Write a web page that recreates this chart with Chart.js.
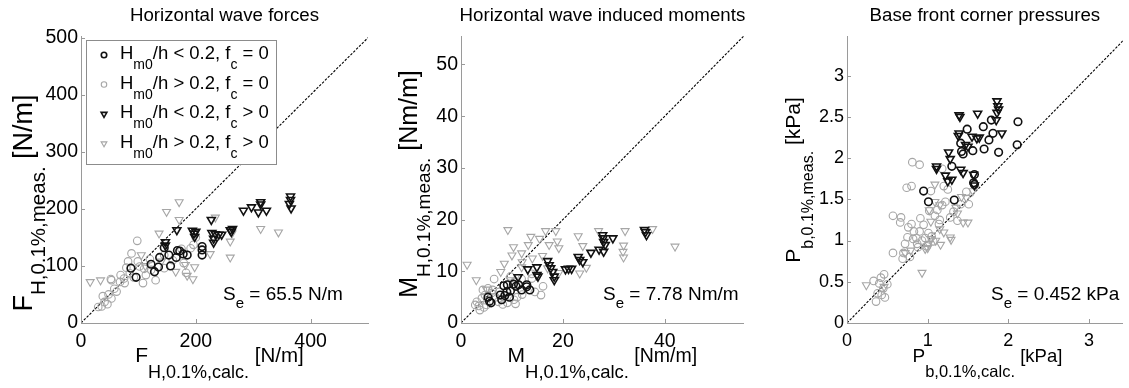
<!DOCTYPE html>
<html>
<head>
<meta charset="utf-8">
<script src="https://cdn.jsdelivr.net/npm/chart.js@4.4.1/dist/chart.umd.min.js"></script>
<style>
  html, body { margin: 0; padding: 0; background: #fff; }
  #wrap { position: relative; width: 1129px; height: 388px; overflow: hidden; }
  canvas { position: absolute; top: 0; }
</style>
</head>
<body>
<div id="wrap">
  <canvas id="cForces" width="380" height="388" style="left:0px"></canvas>
  <canvas id="cMoments" width="370" height="388" style="left:380px"></canvas>
  <canvas id="cPressures" width="379" height="388" style="left:750px"></canvas>
</div>
<script>

// Horizontal wave forces [N/m]
const forcesLowNoCrest = [[87,96],[96,80],[122,103],[128,90],[135,98],[137,115],[145,132],[153,119],[156,100],
  [166,115],[168,127],[172,126],[178,121],[185,119],[211,134],[211,128],[211,119]];
const forcesHighNoCrest = [[98,144],[79,97],[69,84],[53,75],[82,108],[85,87],[76,70],[68,72],[62,55],[53,43],
  [41,37],[36,29],[38,47],[46,33],[99,108],[102,99],[113,84],[122,93],[130,75],[108,70],[145,96],[179,105],
  [183,88],[191,131],[196,137],[145,119],[88,122],[75,78],[92,80],[110,95],[58,60],[30,28],[48,50],[120,112],
  [160,110],[52,77],[200,150],[175,130]];
const forcesLowCrest = [[147,142],[147,136],[167,163],[194,162],[197,157],[198,151],[200,160],[227,181],
  [228,158],[234,156],[231,148],[231,141],[240,155],[245,155],[260,163],[262,160],[264,165],[283,197],
  [297,203],[309,194],[313,212],[313,208],[323,197],[365,222],[365,216],[366,201],[363,209]];
const forcesHighCrest = [[16,72],[34,75],[105,119],[136,157],[149,195],[171,212],[171,181],[182,102],[195,77],
  [198,98],[225,121],[234,185],[260,143],[260,115],[263,157],[313,165],[344,159],[165,90],[185,83],[112,100],
  [140,108]];
const forcesDiagonal = [0, 500];
const forcesXTicks = [0, 200, 400];
const forcesYTicks = [0, 100, 200, 300, 400, 500];

// Horizontal wave induced moments [Nm/m]
const momentsLowNoCrest = [[5.6,4.2],[5.9,3.9],[8.4,7.2],[9.1,7.4],[7.7,5.4],[8.6,5.3],[9.7,6.2],[10.3,7.5],
  [10.8,7.1],[11.3,7.4],[11.9,6.4],[9.5,5.0],[8.0,4.5],[12.9,7.0],[13.5,6.4],[12.9,7.4],[9.0,6.0],[5.3,5.0]];
const momentsHighNoCrest = [[6.5,8.5],[3.7,2.5],[3.1,4.1],[4.1,4.8],[4.7,5.4],[5.3,6.7],[6.2,6.4],[4.3,6.4],
  [7.3,4.1],[9.1,3.9],[10.4,4.5],[10.7,3.7],[11.9,8.5],[13.9,8.6],[15.7,5.4],[16.1,7.1],[13.9,9.5],[9.7,9.0],
  [3.5,3.3],[5.0,3.5],[6.8,5.0],[7.5,6.0],[8.2,3.6],[12.0,5.5],[11.0,5.0],[2.8,3.5],[14.5,6.0],[10.5,8.0],
  [6.0,5.8],[4.5,3.0]];
const momentsLowCrest = [[11.2,8.9],[13.1,10.4],[14.9,10.8],[14.9,9.3],[15.1,9.0],[17.0,12.0],[17.3,11.2],
  [17.6,10.6],[18.0,9.9],[18.3,9.0],[18.3,8.3],[20.5,10.4],[21.1,10.5],[21.7,10.5],[23.0,12.8],[23.3,12.2],
  [23.9,11.8],[25.5,13.6],[27.1,14.2],[27.8,17.0],[27.9,16.4],[28.0,15.7],[28.3,15.1],[28.0,13.8],[29.8,16.4],
  [36.0,18.0],[36.2,17.6],[36.4,17.0]];
const momentsHighCrest = [[1.2,11.3],[3.0,8.3],[9.2,18.0],[10.3,14.7],[10.0,13.1],[11.9,13.5],[13.7,16.7],
  [13.2,15.1],[15.4,16.3],[16.6,17.8],[18.6,17.8],[17.3,15.1],[18.9,15.8],[19.2,14.5],[7.8,9.9],[9.7,8.3],
  [11.9,10.8],[19.2,9.7],[12.0,11.8],[17.0,10.6],[23.0,16.8],[23.9,14.9],[23.3,9.6],[24.6,10.7],[27.0,17.8],
  [32.2,17.8],[31.9,15.0],[31.8,13.8],[31.9,12.7],[37.6,18.2],[42.0,14.8],[14.0,12.5],[16.0,13.0],[5.0,6.5],
  [8.5,11.5]];
const momentsDiagonal = [0, 55.5];
const momentsXTicks = [0, 20, 40];
const momentsYTicks = [0, 10, 20, 30, 40, 50];

// Base front corner pressures [kPa]
const pressLowNoCrest = [[0.95,1.60],[1.01,1.47],[1.33,1.49],[1.30,1.90],[1.41,2.18],[1.42,2.08],[1.44,2.05],
  [1.49,2.35],[1.56,2.09],[1.58,1.80],[1.57,1.70],[1.58,1.68],[1.69,2.38],[1.70,2.11],[1.76,2.22],[1.81,2.30],
  [1.79,2.46],[1.88,2.07],[2.12,2.44],[2.11,2.16]];
const pressHighNoCrest = [[0.81,1.95],[0.90,1.92],[0.74,1.64],[0.80,1.66],[0.57,1.30],[0.67,1.28],[0.66,1.22],
  [0.57,0.85],[0.36,0.26],[0.38,0.36],[0.42,0.55],[0.46,0.59],[0.50,0.47],[0.47,0.31],[0.43,0.34],[0.33,0.51],
  [0.69,0.78],[0.72,0.96],[0.75,1.04],[0.76,1.16],[0.80,1.20],[0.83,1.11],[0.86,1.03],[0.90,1.11],[0.91,1.27],
  [0.95,1.19],[0.87,0.96],[0.97,1.03],[1.01,1.09],[1.02,1.36],[1.07,0.99],[1.09,1.30],[1.12,1.37],[1.14,1.20],
  [1.18,1.43],[1.22,1.47],[1.20,1.66],[1.28,1.28],[1.37,1.24],[1.41,1.44],[1.51,1.44],[1.48,1.59],[1.25,1.62],
  [1.18,1.87],[1.04,1.60],[0.78,0.80],[0.70,0.85],[0.93,1.00],[0.99,0.93],[1.05,1.05],[1.15,1.25],[1.32,1.35],
  [0.45,0.42],[0.40,0.48],[0.82,1.02],[0.88,0.92]];
const pressLowCrest = [[1.39,2.52],[1.40,2.50],[1.62,2.54],[1.39,2.30],[1.38,2.27],[1.55,2.26],[1.47,2.16],
  [1.50,2.14],[1.61,2.24],[1.64,2.25],[1.86,2.69],[1.87,2.63],[1.88,2.59],[1.86,2.55],[1.85,2.46],[1.92,2.30],
  [1.26,2.07],[1.28,1.99],[1.11,1.90],[1.11,1.87],[1.22,1.79],[1.25,1.72],[1.30,1.74],[1.41,1.86],[1.44,1.82],
  [1.57,1.80],[1.58,1.67]];
const pressHighCrest = [[0.24,0.46],[0.93,0.61],[1.09,1.68],[1.50,1.22],[1.42,1.53],[1.15,1.43],[1.02,1.37],
  [1.04,1.23],[1.15,1.14],[1.29,1.01],[1.04,1.02],[1.01,0.96],[1.10,1.00],[1.37,1.33],[1.44,1.22],[1.28,1.04],
  [1.16,0.95],[1.00,0.91],[0.79,0.88],[0.72,0.85],[1.09,1.47],[1.48,1.52],[0.97,0.90],[1.20,1.10],[1.35,1.40],
  [0.46,0.44],[1.56,1.60]];
const pressDiagonal = [0, 3.45];
const pressXTicks = [0, 1, 2, 3];
const pressYTicks = [0, 0.5, 1, 1.5, 2, 2.5, 3];

// ---- style ----
const FONT = "'Liberation Sans', Arial, Helvetica, sans-serif";
const DARK = '#111111';
const GREY = '#a6a6a6';
const AXIS = '#9a9a9a';

const seriesStyles = [
  { key: 'lowNoCrest',  color: DARK, pointStyle: 'circle',   rotation: 0,   radius: 3.8, width: 1.6 },
  { key: 'lowCrest',    color: DARK, pointStyle: 'triangle', rotation: 180, radius: 4.6, width: 1.6 },
  { key: 'highNoCrest', color: GREY, pointStyle: 'circle',   rotation: 0,   radius: 3.8, width: 1.1 },
  { key: 'highCrest',   color: GREY, pointStyle: 'triangle', rotation: 180, radius: 4.6, width: 1.1 }
];

// legend entries (order as in the figure)
const legendOrder = ['lowNoCrest', 'highNoCrest', 'lowCrest', 'highCrest'];
const legendTexts = {
  lowNoCrest:  [['H', 0], ['m0', 1], ['/h < 0.2, f', 0], ['c', 1], [' = 0', 0]],
  highNoCrest: [['H', 0], ['m0', 1], ['/h > 0.2, f', 0], ['c', 1], [' = 0', 0]],
  lowCrest:    [['H', 0], ['m0', 1], ['/h < 0.2, f', 0], ['c', 1], [' > 0', 0]],
  highCrest:   [['H', 0], ['m0', 1], ['/h > 0.2, f', 0], ['c', 1], [' > 0', 0]]
};

// ---- text helpers (for sub-scripted labels) ----
function partsWidth(ctx, parts) {
  let w = 0;
  parts.forEach(function(p) {
    ctx.font = p.size + 'px ' + FONT;
    w += ctx.measureText(p.t).width;
  });
  return w;
}

function drawParts(ctx, parts, x, y, align) {
  const w = partsWidth(ctx, parts);
  let cx = align === 'center' ? x - w / 2 : (align === 'right' ? x - w : x);
  ctx.textAlign = 'left';
  ctx.textBaseline = 'alphabetic';
  parts.forEach(function(p) {
    ctx.font = p.size + 'px ' + FONT;
    ctx.fillText(p.t, cx, y + (p.dy || 0));
    cx += ctx.measureText(p.t).width;
  });
}

// main symbol, subscript, unit
function labelParts(main, sub, unit, sizes) {
  return [
    { t: main, size: sizes[0] },
    { t: sub, size: sizes[1], dy: sizes[3] },
    { t: ' ' + unit, size: sizes[2] }
  ];
}

// ---- plugin: titles, axis labels, inward ticks, S_e note, legend ----
const panelDecor = {
  id: 'panelDecor',
  afterDraw(chart, args, opts) {
    const ctx = chart.ctx;
    const area = chart.chartArea;
    const xs = chart.scales.x;
    const ys = chart.scales.y;
    ctx.save();

    // inward tick marks
    ctx.strokeStyle = AXIS;
    ctx.lineWidth = 1;
    ctx.beginPath();
    xs.ticks.forEach(function(t) {
      const px = Math.round(xs.getPixelForValue(t.value)) + 0.5;
      ctx.moveTo(px, area.bottom);
      ctx.lineTo(px, area.bottom - 4);
    });
    ys.ticks.forEach(function(t) {
      const py = Math.round(ys.getPixelForValue(t.value)) + 0.5;
      ctx.moveTo(area.left, py);
      ctx.lineTo(area.left + 4, py);
    });
    ctx.stroke();

    ctx.fillStyle = '#000';

    // title
    ctx.font = '18.7px ' + FONT;
    ctx.textAlign = 'center';
    ctx.textBaseline = 'alphabetic';
    ctx.fillText(opts.title, (area.left + area.right) / 2, 21);

    // x axis label
    drawParts(ctx, opts.xLabel, (area.left + area.right) / 2 + opts.xLabelShift, 362, 'center');

    // y axis label (rotated)
    ctx.save();
    ctx.translate(opts.yLabelX, opts.yLabelY);
    ctx.rotate(-Math.PI / 2);
    drawParts(ctx, opts.yLabel, 0, 0, 'center');
    ctx.restore();

    // standard error note
    drawParts(ctx, opts.note, opts.noteX, 300, 'left');

    ctx.restore();
  },
  afterDatasetsDraw(chart, args, opts) {
    if (!opts.legend) return;
    const ctx = chart.ctx;
    const lg = opts.legend;
    ctx.save();
    ctx.fillStyle = '#fff';
    ctx.fillRect(lg.x, lg.y, lg.w, lg.h);
    ctx.strokeStyle = '#8c8c8c';
    ctx.lineWidth = 1;
    ctx.strokeRect(lg.x + 0.5, lg.y + 0.5, lg.w, lg.h);
    legendOrder.forEach(function(key, i) {
      const st = seriesStyles.find(function(s) { return s.key === key; });
      const base = lg.y + 19 + i * 29.5;
      ctx.strokeStyle = st.color;
      ctx.fillStyle = 'rgba(0,0,0,0)';
      ctx.lineWidth = st.width;
      Chart.helpers.drawPoint(ctx, {
        pointStyle: st.pointStyle,
        rotation: st.rotation,
        radius: st.radius * 0.72,
        borderWidth: st.width
      }, lg.x + 18, base - 4);
      ctx.fillStyle = '#000';
      const parts = legendTexts[key].map(function(p) {
        return p[1] ? { t: p[0], size: 14, dy: 10 } : { t: p[0], size: 18.5 };
      });
      drawParts(ctx, parts, lg.x + 34, base, 'left');
    });
    ctx.restore();
  }
};

// ---- chart factory ----
function buildDatasets(series, diagonal) {
  const sets = seriesStyles.map(function(st) {
    return {
      label: st.key,
      data: series[st.key].map(function(p) { return { x: p[0], y: p[1] }; }),
      pointStyle: st.pointStyle,
      rotation: st.rotation,
      pointRadius: st.radius,
      pointBorderWidth: st.width,
      borderColor: st.color,
      pointBorderColor: st.color,
      pointBackgroundColor: 'rgba(0,0,0,0)',
      backgroundColor: 'rgba(0,0,0,0)',
      showLine: false
    };
  });
  sets.push({
    label: 'diagonal',
    data: diagonal.map(function(v) { return { x: v, y: v }; }),
    showLine: true,
    borderColor: '#000',
    borderWidth: 1.1,
    borderDash: [2.5, 1.5],
    pointRadius: 0,
    order: 10
  });
  return sets;
}

function axisOptions(max, tickValues, fitSize, isX, fontSize) {
  return {
    type: 'linear',
    min: 0,
    max: max,
    afterBuildTicks: function(scale) {
      scale.ticks = tickValues.map(function(v) { return { value: v }; });
    },
    afterFit: function(scale) {
      if (isX) scale.height = fitSize; else scale.width = fitSize;
    },
    grid: { display: false, drawTicks: false },
    border: { display: true, color: AXIS, width: 1 },
    ticks: {
      color: '#000',
      font: { family: FONT, size: fontSize },
      padding: isX ? 7 : 3,
      maxRotation: 0,
      autoSkip: false,
      callback: function(v) { return String(v); }
    }
  };
}

function makePanel(canvasId, cfg) {
  return new Chart(document.getElementById(canvasId), {
    type: 'scatter',
    data: { datasets: buildDatasets(cfg.series, cfg.diagonal) },
    options: {
      responsive: false,
      animation: false,
      events: [],
      layout: { padding: { top: 36, right: cfg.padRight, left: 0, bottom: 0 } },
      scales: {
        x: axisOptions(cfg.xMax, cfg.xTicks, 65, true, cfg.tickSize),
        y: axisOptions(cfg.yMax, cfg.yTicks, cfg.yWidth, false, cfg.tickSize)
      },
      plugins: {
        legend: { display: false },
        tooltip: { enabled: false },
        panelDecor: cfg.decor
      }
    },
    plugins: [panelDecor]
  });
}

makePanel('cForces', {
  series: { lowNoCrest: forcesLowNoCrest, highNoCrest: forcesHighNoCrest, lowCrest: forcesLowCrest, highCrest: forcesHighCrest },
  diagonal: forcesDiagonal, xTicks: forcesXTicks, yTicks: forcesYTicks,
  xMax: 500, yMax: 503, yWidth: 81, padRight: 12, tickSize: 19.5,
  decor: {
    title: 'Horizontal wave forces',
    xLabel: labelParts('F', 'H,0.1%,calc.', '[N/m]', [21, 18, 20.5, 16]), xLabelShift: -5,
    yLabel: labelParts('F', 'H,0.1%,meas.', '[N/m]', [27, 20.5, 27, 13]), yLabelX: 32, yLabelY: 203,
    note: [{ t: 'S', size: 19 }, { t: 'e', size: 15, dy: 8 }, { t: ' = 65.5 N/m', size: 19 }], noteX: 223,
    legend: { x: 86, y: 40, w: 190, h: 124 }
  }
});

makePanel('cMoments', {
  series: { lowNoCrest: momentsLowNoCrest, highNoCrest: momentsHighNoCrest, lowCrest: momentsLowCrest, highCrest: momentsHighCrest },
  diagonal: momentsDiagonal, xTicks: momentsXTicks, yTicks: momentsYTicks,
  xMax: 55.5, yMax: 55.5, yWidth: 81, padRight: 2, tickSize: 19.5,
  decor: {
    title: 'Horizontal wave induced moments',
    xLabel: labelParts('M', 'H,0.1%,calc.', '[Nm/m]', [21, 18.5, 19.5, 16]), xLabelShift: 0,
    yLabel: labelParts('M', 'H,0.1%,meas.', '[Nm/m]', [25, 19, 25, 13]), yLabelX: 37, yLabelY: 184,
    note: [{ t: 'S', size: 19 }, { t: 'e', size: 15, dy: 8 }, { t: ' = 7.78 Nm/m', size: 19 }], noteX: 223
  }
});

makePanel('cPressures', {
  series: { lowNoCrest: pressLowNoCrest, highNoCrest: pressHighNoCrest, lowCrest: pressLowCrest, highCrest: pressHighCrest },
  diagonal: pressDiagonal, xTicks: pressXTicks, yTicks: pressYTicks,
  xMax: 3.42, yMax: 3.48, yWidth: 97, padRight: 1, tickSize: 18,
  decor: {
    title: 'Base front corner pressures',
    xLabel: labelParts('P', 'b,0.1%,calc.', '[kPa]', [19, 16.5, 18.5, 15]), xLabelShift: 2.5,
    yLabel: labelParts('P', 'b,0.1%,meas.', '[kPa]', [21, 16, 21, 12.5]), yLabelX: 50, yLabelY: 180,
    note: [{ t: 'S', size: 19 }, { t: 'e', size: 15, dy: 8 }, { t: ' = 0.452 kPa', size: 19 }], noteX: 241
  }
});
</script>
</body>
</html>
